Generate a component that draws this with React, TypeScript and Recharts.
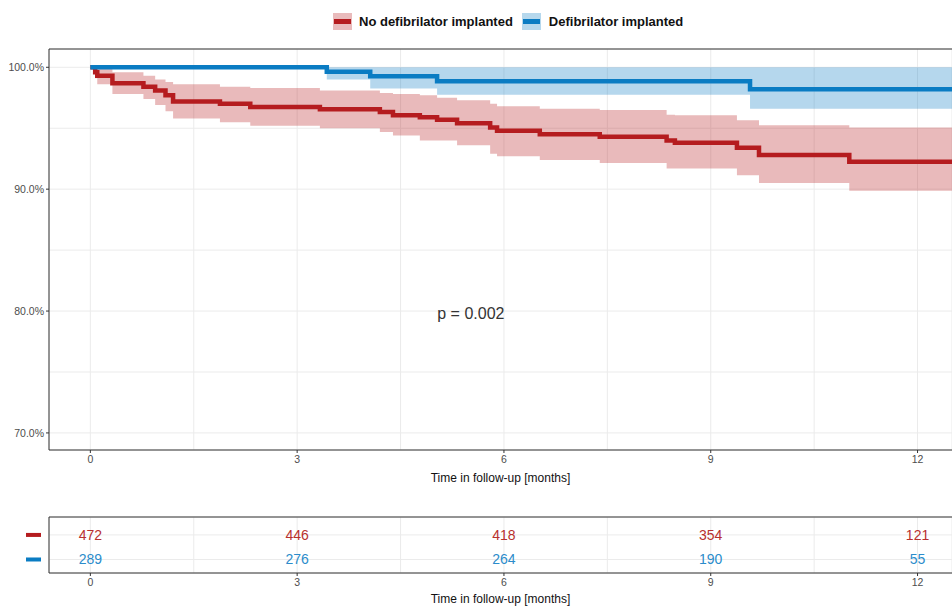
import {
  ComposedChart, Area, Line, XAxis, YAxis, CartesianGrid, ReferenceLine, ReferenceDot,
  ScatterChart, Scatter,
} from "recharts";

// axis breaks: labelled majors and unlabelled minors (grid only)
const months = [0, 3, 6, 9, 12];
const minorMonths = [1.5, 4.5, 7.5, 10.5];
const survTicks = [70, 80, 90, 100];
const minorSurv = [75, 85, 95];

// Kaplan-Meier estimate, no defibrilator (time in months, survival %, 95% CI)
const noDefTime = [0, 0.07, 0.1, 0.32, 0.77, 0.94, 1.09, 1.2, 1.88, 2.32, 3.33, 4.2, 4.39, 4.78, 5.03, 5.32, 5.8, 5.9, 6.52, 7.39, 8.36, 8.48, 9.38, 9.7, 11.01];
const noDefSurv = [100, 99.6, 99.3, 98.7, 98.4, 98.1, 97.7, 97.2, 97.0, 96.75, 96.56, 96.34, 96.07, 95.9, 95.7, 95.4, 95.05, 94.8, 94.5, 94.3, 94.0, 93.8, 93.4, 92.8, 92.24];
const noDefLower = [100, 99.1, 98.6, 97.8, 97.4, 96.9, 96.4, 95.8, 95.5, 95.2, 95.0, 94.7, 94.4, 94.0, 94.0, 93.6, 92.9, 92.7, 92.4, 92.15, 91.7, 91.7, 91.15, 90.5, 89.86];
const noDefUpper = [100, 100, 99.9, 99.6, 99.3, 99.0, 98.8, 98.6, 98.4, 98.3, 98.1, 97.9, 97.8, 97.7, 97.5, 97.3, 97.0, 96.8, 96.6, 96.5, 96.1, 96.07, 95.66, 95.25, 95.06];

// Kaplan-Meier estimate, defibrilator implanted
const defTime = [0, 3.43, 4.06, 5.03, 9.57];
const defSurv = [100, 99.64, 99.26, 98.85, 98.2];
const defLower = [100, 99.0, 98.25, 97.75, 96.6];
const defUpper = [100, 100, 100, 100, 100];

const followUpEnd = 12.5;

// numbers at risk at each major tick
const riskNoDef = [472, 446, 418, 354, 121];
const riskDef = [289, 276, 264, 190, 55];

const RED = "#b51c1f";
const BLUE = "#0a7cc3";
const FONT = "'Liberation Sans', Arial, sans-serif";

function stepValue(times: number[], values: number[], t: number) {
  let v = values[0];
  for (let i = 0; i < times.length; i++) if (times[i] <= t) v = values[i];
  return v;
}

const allTimes = Array.from(new Set([...noDefTime, ...defTime, followUpEnd])).sort((a, b) => a - b);
const curveData = allTimes.map((t) => ({
  t,
  noDef: stepValue(noDefTime, noDefSurv, t),
  noDefCi: [stepValue(noDefTime, noDefLower, t), stepValue(noDefTime, noDefUpper, t)],
  def: stepValue(defTime, defSurv, t),
  defCi: [stepValue(defTime, defLower, t), stepValue(defTime, defUpper, t)],
}));

const riskRowsNoDef = months.map((m, i) => ({ t: m, row: 2, n: riskNoDef[i] }));
const riskRowsDef = months.map((m, i) => ({ t: m, row: 1, n: riskDef[i] }));

const xDomain = [-0.6, 12.5];
const xBreaks = [...months, ...minorMonths].sort((a, b) => a - b);
const yBreaks = [...survTicks, ...minorSurv].sort((a, b) => a - b);
const titleStyle = { fontSize: 12, fill: "#111", fontFamily: FONT };

// bottom-axis tick: mark + label on majors only
const MonthTick = (props: any) => {
  const v = props.payload.value;
  if (!months.includes(v)) return <g />;
  return (
    <g>
      <line x1={props.x} x2={props.x} y1={props.y - 3} y2={props.y} stroke="#333" />
      <text x={props.x} y={props.y + 3} dy="0.71em" textAnchor="middle" fontSize={10.5} fill="#4d4d4d" fontFamily={FONT}>
        {v}
      </text>
    </g>
  );
};

const SurvTick = (props: any) => {
  const v = props.payload.value;
  if (!survTicks.includes(v)) return <g />;
  return (
    <g>
      <line x1={props.x} x2={props.x + 3} y1={props.y} y2={props.y} stroke="#333" />
      <text x={props.x - 2} y={props.y} dy="0.35em" textAnchor="end" fontSize={10.5} fill="#4d4d4d" fontFamily={FONT}>
        {`${v.toFixed(1)}%`}
      </text>
    </g>
  );
};

function LegendKey({ color }: { color: string }) {
  return (
    <span style={{ display: "inline-block", width: 19, height: 17, background: color, position: "relative" }}>
      <span style={{ position: "absolute", inset: 0, background: "#fff", opacity: 0.7 }} />
      <span style={{ position: "absolute", left: 1, right: 1, top: 6, height: 5, background: color }} />
    </span>
  );
}

const riskNumber = (color: string) => (props: any) => (
  <text
    x={props.cx}
    y={props.cy}
    textAnchor="middle"
    dominantBaseline="central"
    fill={color}
    fontSize={14}
    fontFamily={FONT}
  >
    {props.payload.n}
  </text>
);

const riskRowTick = (props: any) => {
  const color = props.payload.value === 2 ? RED : BLUE;
  return <rect x={26} y={props.y - 2} width={15} height={4} fill={color} />;
};

export default function App() {
  return (
    <div style={{ position: "absolute", left: 0, top: 0, width: 952, height: 606, background: "#fff", fontFamily: FONT }}>
      <div style={{ position: "absolute", left: 333, top: 13, display: "flex", alignItems: "center", fontSize: 13, fontWeight: 700, color: "#111" }}>
        <LegendKey color={RED} />
        <span style={{ marginLeft: 7, marginRight: 9 }}>No defibrilator implanted</span>
        <LegendKey color={BLUE} />
        <span style={{ marginLeft: 8 }}>Defibrilator implanted</span>
      </div>

      <div style={{ position: "absolute", left: 0, top: 0 }}>
        <ComposedChart width={952} height={490} data={curveData} margin={{ top: 49, right: 0, left: 0, bottom: 0 }}>
          <CartesianGrid stroke="#ebebeb" />
          <XAxis
            type="number"
            dataKey="t"
            domain={xDomain}
            ticks={xBreaks}
            interval={0}
            allowDataOverflow
            height={40}
            tick={MonthTick}
            tickLine={false}
            tickSize={3}
            tickMargin={0}
            stroke="#333"
            label={{ value: "Time in follow-up [months]", position: "insideBottom", offset: 8, ...titleStyle }}
          />
          <YAxis
            type="number"
            domain={[68.6, 101.5]}
            ticks={yBreaks}
            interval={0}
            allowDataOverflow
            width={49}
            tick={SurvTick}
            tickLine={false}
            tickSize={3}
            tickMargin={0}
            stroke="#333"
          />
          <ReferenceLine y={101.5} stroke="#333" />
          <Area type="stepAfter" dataKey="noDefCi" fill={RED} fillOpacity={0.3} stroke="none" isAnimationActive={false} />
          <Area type="stepAfter" dataKey="defCi" fill={BLUE} fillOpacity={0.3} stroke="none" isAnimationActive={false} />
          <Line type="stepAfter" dataKey="noDef" stroke={RED} strokeWidth={4.5} dot={false} isAnimationActive={false} />
          <Line type="stepAfter" dataKey="def" stroke={BLUE} strokeWidth={4.5} dot={false} isAnimationActive={false} />
          <ReferenceDot
            x={5.52}
            y={79.8}
            r={0}
            fill="none"
            stroke="none"
            label={{ value: "p = 0.002", position: "center", fontSize: 16, fill: "#333", fontFamily: FONT }}
          />
        </ComposedChart>
      </div>

      <div style={{ position: "absolute", left: 0, top: 484 }}>
        <ScatterChart width={952} height={122} margin={{ top: 33, right: 0, left: 0, bottom: 0 }}>
          <CartesianGrid stroke="#ebebeb" />
          <XAxis
            type="number"
            dataKey="t"
            domain={xDomain}
            ticks={xBreaks}
            interval={0}
            allowDataOverflow
            height={33}
            tick={MonthTick}
            tickLine={false}
            tickSize={3}
            tickMargin={0}
            stroke="#333"
            label={{ value: "Time in follow-up [months]", position: "insideBottom", offset: 3, ...titleStyle }}
          />
          <YAxis
            type="number"
            dataKey="row"
            domain={[0.45, 2.73]}
            ticks={[1, 2]}
            width={49}
            tick={riskRowTick}
            tickLine={false}
            stroke="#333"
          />
          <ReferenceLine y={2.73} stroke="#333" />
          <Scatter data={riskRowsNoDef} shape={riskNumber("#b8302e")} isAnimationActive={false} />
          <Scatter data={riskRowsDef} shape={riskNumber("#2b8ccb")} isAnimationActive={false} />
        </ScatterChart>
      </div>
    </div>
  );
}
